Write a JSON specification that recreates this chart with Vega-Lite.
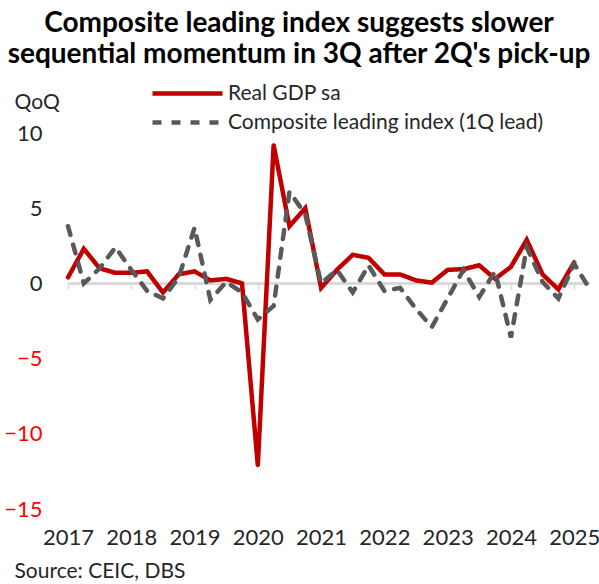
{
  "$schema": "https://vega.github.io/schema/vega-lite/v6.json",
  "width": 522,
  "height": 376,
  "autosize": "none",
  "padding": {"left": 68, "top": 133, "right": 9, "bottom": 75},
  "background": "white",
  "title": {
    "text": ["Composite leading index suggests slower", "sequential momentum in 3Q after 2Q's pick-up"],
    "font": "Lato",
    "fontSize": 28,
    "fontWeight": "bold",
    "color": "#000000",
    "anchor": "middle",
    "frame": "group",
    "dx": -30,
    "lineHeight": 31,
    "offset": 12
  },
  "config": {
    "view": {"stroke": null},
    "font": "Lato"
  },
  "data": {
    "values": [
      {"q": 0, "series": "Real GDP sa", "v": 0.4},
      {"q": 1, "series": "Real GDP sa", "v": 2.3},
      {"q": 2, "series": "Real GDP sa", "v": 1.0},
      {"q": 3, "series": "Real GDP sa", "v": 0.7},
      {"q": 4, "series": "Real GDP sa", "v": 0.7},
      {"q": 5, "series": "Real GDP sa", "v": 0.8},
      {"q": 6, "series": "Real GDP sa", "v": -0.6},
      {"q": 7, "series": "Real GDP sa", "v": 0.6},
      {"q": 8, "series": "Real GDP sa", "v": 0.8},
      {"q": 9, "series": "Real GDP sa", "v": 0.2},
      {"q": 10, "series": "Real GDP sa", "v": 0.3},
      {"q": 11, "series": "Real GDP sa", "v": 0.0},
      {"q": 12, "series": "Real GDP sa", "v": -12.1},
      {"q": 13, "series": "Real GDP sa", "v": 9.2},
      {"q": 14, "series": "Real GDP sa", "v": 3.8},
      {"q": 15, "series": "Real GDP sa", "v": 5.0},
      {"q": 16, "series": "Real GDP sa", "v": -0.3},
      {"q": 17, "series": "Real GDP sa", "v": 0.9},
      {"q": 18, "series": "Real GDP sa", "v": 1.9},
      {"q": 19, "series": "Real GDP sa", "v": 1.7},
      {"q": 20, "series": "Real GDP sa", "v": 0.6},
      {"q": 21, "series": "Real GDP sa", "v": 0.6},
      {"q": 22, "series": "Real GDP sa", "v": 0.2},
      {"q": 23, "series": "Real GDP sa", "v": 0.05},
      {"q": 24, "series": "Real GDP sa", "v": 0.9},
      {"q": 25, "series": "Real GDP sa", "v": 0.95},
      {"q": 26, "series": "Real GDP sa", "v": 1.2},
      {"q": 27, "series": "Real GDP sa", "v": 0.3},
      {"q": 28, "series": "Real GDP sa", "v": 1.1},
      {"q": 29, "series": "Real GDP sa", "v": 2.9},
      {"q": 30, "series": "Real GDP sa", "v": 0.6},
      {"q": 31, "series": "Real GDP sa", "v": -0.4},
      {"q": 32, "series": "Real GDP sa", "v": 1.4},
      {"q": 0, "series": "Composite leading index (1Q lead)", "v": 3.8},
      {"q": 1, "series": "Composite leading index (1Q lead)", "v": 0.0},
      {"q": 2, "series": "Composite leading index (1Q lead)", "v": 1.0},
      {"q": 3, "series": "Composite leading index (1Q lead)", "v": 2.4},
      {"q": 4, "series": "Composite leading index (1Q lead)", "v": 0.9},
      {"q": 5, "series": "Composite leading index (1Q lead)", "v": -0.5},
      {"q": 6, "series": "Composite leading index (1Q lead)", "v": -1.0},
      {"q": 7, "series": "Composite leading index (1Q lead)", "v": 0.4},
      {"q": 8, "series": "Composite leading index (1Q lead)", "v": 3.7},
      {"q": 9, "series": "Composite leading index (1Q lead)", "v": -1.1},
      {"q": 10, "series": "Composite leading index (1Q lead)", "v": 0.1},
      {"q": 11, "series": "Composite leading index (1Q lead)", "v": -0.6},
      {"q": 12, "series": "Composite leading index (1Q lead)", "v": -2.4},
      {"q": 13, "series": "Composite leading index (1Q lead)", "v": -1.5},
      {"q": 14, "series": "Composite leading index (1Q lead)", "v": 6.1},
      {"q": 15, "series": "Composite leading index (1Q lead)", "v": 4.6},
      {"q": 16, "series": "Composite leading index (1Q lead)", "v": 0.0},
      {"q": 17, "series": "Composite leading index (1Q lead)", "v": 0.9},
      {"q": 18, "series": "Composite leading index (1Q lead)", "v": -0.6},
      {"q": 19, "series": "Composite leading index (1Q lead)", "v": 1.2},
      {"q": 20, "series": "Composite leading index (1Q lead)", "v": -0.5},
      {"q": 21, "series": "Composite leading index (1Q lead)", "v": -0.3},
      {"q": 22, "series": "Composite leading index (1Q lead)", "v": -1.7},
      {"q": 23, "series": "Composite leading index (1Q lead)", "v": -2.9},
      {"q": 24, "series": "Composite leading index (1Q lead)", "v": -1.0},
      {"q": 25, "series": "Composite leading index (1Q lead)", "v": 0.9},
      {"q": 26, "series": "Composite leading index (1Q lead)", "v": -0.9},
      {"q": 27, "series": "Composite leading index (1Q lead)", "v": 0.8},
      {"q": 28, "series": "Composite leading index (1Q lead)", "v": -3.6},
      {"q": 29, "series": "Composite leading index (1Q lead)", "v": 2.4},
      {"q": 30, "series": "Composite leading index (1Q lead)", "v": 0.1},
      {"q": 31, "series": "Composite leading index (1Q lead)", "v": -1.0},
      {"q": 32, "series": "Composite leading index (1Q lead)", "v": 1.3},
      {"q": 33, "series": "Composite leading index (1Q lead)", "v": -0.4}
    ]
  },
  "layer": [
    {
      "mark": {"type": "rule", "color": "#D9D9D9", "strokeWidth": 2},
      "encoding": {"y": {"datum": 0, "type": "quantitative"}}
    },
    {
      "mark": {"type": "line", "strokeWidth": 4.5, "strokeCap": "round", "strokeJoin": "miter"},
      "encoding": {
        "x": {
          "field": "q",
          "type": "quantitative",
          "scale": {"domain": [0, 33], "nice": false, "zero": false},
          "axis": {
            "values": [0, 4, 8, 12, 16, 20, 24, 28, 32],
            "labelExpr": "'' + (2017 + datum.value / 4)",
            "grid": false,
            "domain": false,
            "ticks": true,
            "tickColor": "#D9D9D9",
            "tickSize": 6,
            "tickWidth": 1.5,
            "offset": -225.6,
            "labelPadding": 238,
            "labelFontSize": 22,
            "labelColor": "#262626",
            "labelFont": "Lato",
            "labelFlush": false,
            "labelOverlap": false,
            "labelDx": 2,
            "title": "Source: CEIC, DBS",
            "titleFont": "Lato",
            "titleFontSize": 21,
            "titleFontWeight": "normal",
            "titleColor": "#262626",
            "titleAnchor": "start",
            "titleAlign": "left",
            "titleBaseline": "middle",
            "titleX": -54,
            "titleY": 288
          }
        },
        "y": {
          "field": "v",
          "type": "quantitative",
          "scale": {"domain": [-15, 10], "nice": false},
          "axis": {
            "values": [-15, -10, -5, 0, 5, 10],
            "grid": false,
            "domain": false,
            "ticks": false,
            "labelPadding": 26,
            "labelFontSize": 22,
            "labelFont": "Lato",
            "labelColor": {"expr": "datum.value < 0 ? '#FF0000' : '#262626'"},
            "title": "QoQ",
            "titleFont": "Lato",
            "titleFontSize": 21,
            "titleFontWeight": "normal",
            "titleColor": "#262626",
            "titleAngle": 0,
            "titleAlign": "left",
            "titleBaseline": "middle",
            "titleX": -54,
            "titleY": -31
          }
        },
        "color": {
          "field": "series",
          "type": "nominal",
          "scale": {"domain": ["Real GDP sa", "Composite leading index (1Q lead)"], "range": ["#C00000", "#595959"]},
          "legend": {
            "title": null,
            "orient": "none",
            "legendX": 107,
            "legendY": -52,
            "symbolType": "M-3.5,0H3.5",
            "symbolSize": 400,
            "symbolStrokeWidth": 4.5,
            "labelFontSize": 21,
            "labelFont": "Lato",
            "labelColor": "#262626",
            "labelOffset": 28,
            "labelLimit": 500,
            "rowPadding": 6
          }
        },
        "strokeDash": {
          "field": "series",
          "type": "nominal",
          "scale": {"domain": ["Real GDP sa", "Composite leading index (1Q lead)"], "range": [[1, 0], [9, 10]]},
          "legend": {
            "title": null,
            "orient": "none",
            "legendX": 107,
            "legendY": -52,
            "symbolType": "M-3.5,0H3.5",
            "symbolSize": 400,
            "symbolStrokeWidth": 4.5,
            "labelFontSize": 21,
            "labelFont": "Lato",
            "labelColor": "#262626",
            "labelOffset": 28,
            "labelLimit": 500,
            "rowPadding": 6
          }
        }
      }
    }
  ]
}
